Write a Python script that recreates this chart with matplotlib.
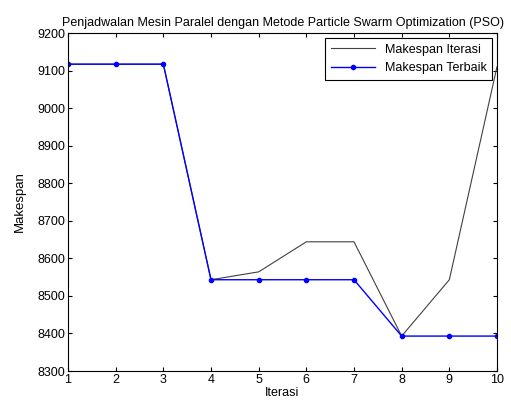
import numpy as np
from matplotlib import pyplot as plt

plt.rcParams['font.family'] = ['Liberation Sans', 'DejaVu Sans']

iterasi = np.arange(1, 11)
makespan_iterasi = [9117, 9117, 9117, 8543, 8564, 8644, 8644, 8393, 8543, 9110]
makespan_terbaik = [9117, 9117, 9117, 8543, 8543, 8543, 8543, 8393, 8393, 8393]

fig = plt.figure(figsize=(5.11, 4.03), dpi=100)
ax = fig.add_axes([68 / 511, 1 - 371 / 403, (497 - 68) / 511, (371 - 33) / 403])

ax.plot(iterasi, makespan_iterasi, color='#404040', lw=0.8, label='Makespan Iterasi')
ax.plot(iterasi, makespan_terbaik, color='b', lw=1.0, marker='.', ms=6,
        label='Makespan Terbaik')

ax.set_xlim(1, 10)
ax.set_ylim(8300, 9200)
ax.set_xticks(iterasi)
ax.set_yticks(np.arange(8300, 9201, 100))
ax.tick_params(direction='in', top=True, right=True, labelsize=9, length=3, pad=2)
for s in ax.spines.values():
    s.set_linewidth(0.8)

ax.set_title('Penjadwalan Mesin Paralel dengan Metode Particle Swarm Optimization (PSO)',
             fontsize=9, pad=5)
ax.set_xlabel('Iterasi', fontsize=9, labelpad=1)
ax.set_ylabel('Makespan', fontsize=9.5, labelpad=8)

leg = ax.legend(loc='upper right', fontsize=9, fancybox=False, framealpha=1,
                edgecolor='black', borderaxespad=0.4, handlelength=3.5,
                borderpad=0.45, labelspacing=0.5)
leg.get_frame().set_linewidth(0.8)

fig.savefig('out.png', dpi=100)
